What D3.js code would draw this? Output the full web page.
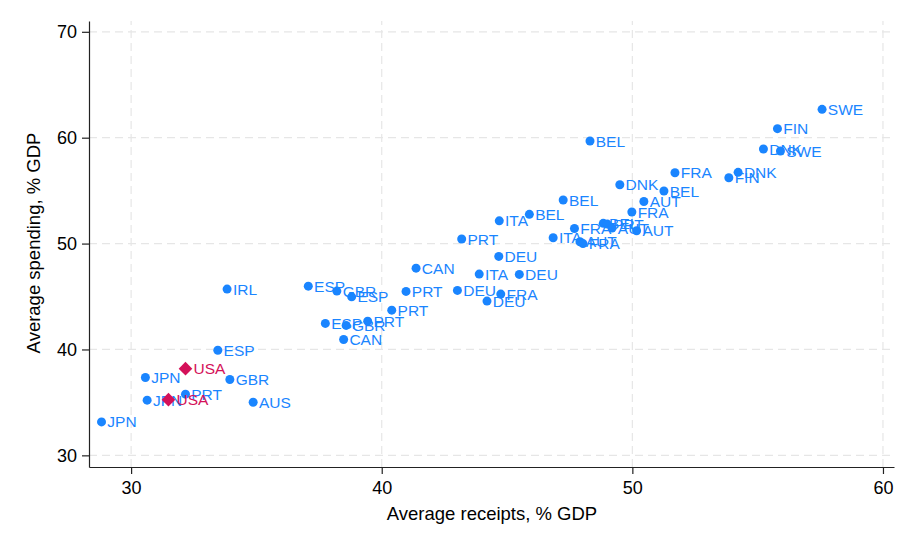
<!DOCTYPE html>
<html>
<head>
<meta charset="utf-8">
<script src="https://cdn.jsdelivr.net/npm/d3@7"></script>
<style>
  body { margin: 0; background: #fff; }
  text { font-family: "Liberation Sans", Arial, Helvetica, sans-serif; }
</style>
</head>
<body>
<div id="chart"></div>
<script>
let w = 915; let h = 548;

// country panels: receipts (x), spending (y)
let labels = ["JPN","JPN","JPN","PRT","ESP","GBR","AUS","IRL","ESP","GBR",
  "ESP","ESP","GBR","PRT","CAN","PRT","PRT","CAN","DEU","PRT",
  "ITA","DEU","DEU","FRA","DEU","ITA","BEL","ITA","BEL","FRA",
  "AUT","FRA","BEL","BEL","PRT","AUT","DNK","FRA","AUT","AUT",
  "BEL","FRA","FIN","DNK","DNK","SWE","FIN","SWE"];
let receipts = [28.82,30.57,30.64,32.17,33.46,33.94,34.87,33.83,37.07,38.21,
  38.80,37.75,38.58,39.44,38.48,40.40,40.97,41.37,43.02,43.19,
  43.89,44.67,44.20,44.75,45.49,44.69,45.89,46.84,47.24,47.69,
  47.91,48.03,48.31,48.84,49.00,49.19,49.50,49.98,50.17,50.46,
  51.26,51.70,53.85,54.22,55.23,55.91,55.79,57.57];
let spending = [33.16,37.35,35.21,35.78,39.93,37.16,35.02,45.70,45.98,45.51,
  44.97,42.46,42.27,42.67,40.94,43.71,45.48,47.68,45.58,50.43,
  47.12,48.79,44.57,45.23,47.09,52.15,52.76,50.55,54.11,51.42,
  50.17,50.00,59.69,51.91,51.84,51.46,55.56,52.98,51.21,53.97,
  54.96,56.69,56.22,56.73,58.93,58.74,60.85,62.68];

let usaLabels = ["USA","USA"];
let usaReceipts = [32.17,31.49];
let usaSpending = [38.19,35.26];

let xTicks = [30,40,50,60];
let yTicks = [30,40,50,60,70];

let blue = "#1a85ff"; let red = "#d41159";

let svg = d3.select("#chart").append("svg").attr("width", w).attr("height", h);

let xScale = d3.scaleLinear().domain([28.32, 60.44]).range([89, 894]);
let yScale = d3.scaleLinear().domain([28.9, 71.02]).range([467, 21]);

//gridlines
svg.append("g").selectAll("line").data(yTicks).enter().append("line")
  .attr("x1", xScale.range()[0]).attr("x2", xScale.range()[1])
  .attr("y1", d => yScale(d)).attr("y2", d => yScale(d))
  .attr("stroke", "#e6e6e6").attr("stroke-width", 1.2).attr("stroke-dasharray", "8,5");
svg.append("g").selectAll("line").data(xTicks).enter().append("line")
  .attr("y1", yScale.range()[0]).attr("y2", yScale.range()[1])
  .attr("x1", d => xScale(d)).attr("x2", d => xScale(d))
  .attr("stroke", "#e6e6e6").attr("stroke-width", 1.2).attr("stroke-dasharray", "8,5");

//axes
let yAxis = svg.append("g").attr("transform", "translate(89,0)")
  .call(d3.axisLeft(yScale).tickValues(yTicks).tickSize(7).tickSizeOuter(0).tickPadding(5));
let xAxis = svg.append("g").attr("transform", "translate(0,467)")
  .call(d3.axisBottom(xScale).tickValues(xTicks).tickSize(7).tickSizeOuter(0).tickPadding(7));
[xAxis, yAxis].forEach(a => {
  a.selectAll("text").attr("font-size", "18px").attr("fill", "#000")
    .attr("font-family", "'Liberation Sans', Arial, sans-serif");
  a.selectAll("line").attr("stroke", "#222").attr("stroke-width", 1.2);
  a.select(".domain").attr("stroke", "#222").attr("stroke-width", 1.2);
});

svg.append("text")
  .attr("x", 492).attr("y", 520)
  .attr("text-anchor", "middle").attr("font-size", "18.5px").attr("fill", "#000")
  .text("Average receipts, % GDP");

svg.append("text")
  .attr("transform", "translate(40,243) rotate(-90)")
  .attr("text-anchor", "middle").attr("font-size", "18.5px").attr("fill", "#000")
  .text("Average spending, % GDP");

//points
let pts = labels.map((d, i) => ({ lab: d, x: receipts[i], y: spending[i] }));
let usa = usaLabels.map((d, i) => ({ lab: d, x: usaReceipts[i], y: usaSpending[i] }));

svg.append("g").selectAll("circle").data(pts).enter().append("circle")
  .attr("cx", d => xScale(d.x)).attr("cy", d => yScale(d.y))
  .attr("r", 4.5).attr("fill", blue);

svg.append("g").selectAll("text").data(pts).enter().append("text")
  .attr("x", d => xScale(d.x) + 5.8).attr("y", d => yScale(d.y))
  .attr("dy", "0.36em").attr("font-size", "15.5px").attr("fill", blue)
  .text(d => d.lab);

svg.append("g").selectAll("path").data(usa).enter().append("path")
  .attr("transform", d => "translate(" + xScale(d.x) + "," + yScale(d.y) + ")")
  .attr("d", "M0,-6.8L6.8,0L0,6.8L-6.8,0Z")
  .attr("fill", red);

svg.append("g").selectAll("text").data(usa).enter().append("text")
  .attr("x", d => xScale(d.x) + 8).attr("y", d => yScale(d.y))
  .attr("dy", "0.36em").attr("font-size", "15.5px").attr("fill", red)
  .text(d => d.lab);
</script>
</body>
</html>
